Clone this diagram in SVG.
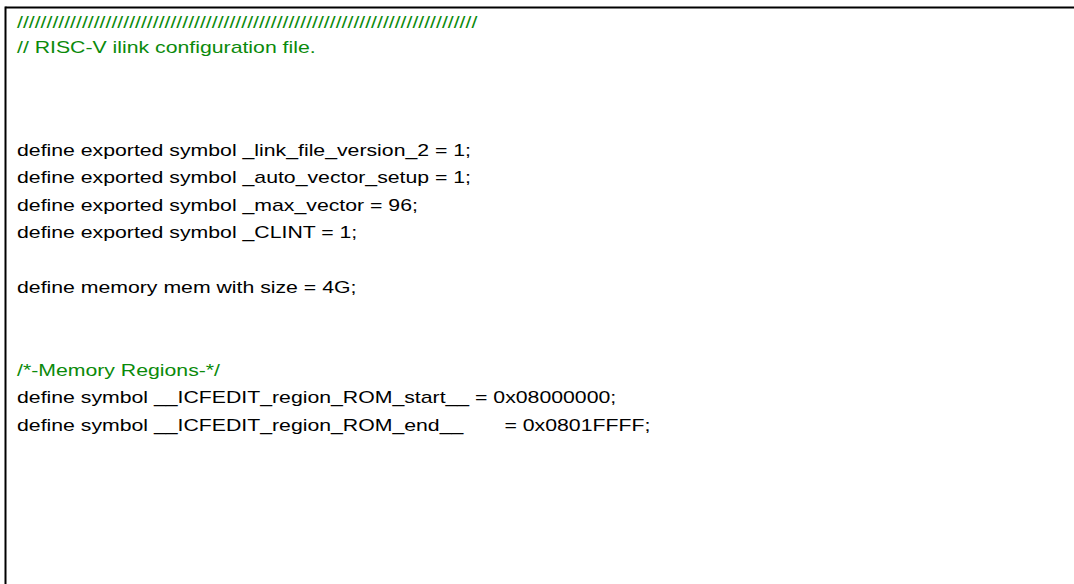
<svg xmlns="http://www.w3.org/2000/svg" width="1074" height="584" viewBox="0 0 1074 584">
<style>
.t{font-family:"Liberation Sans",Arial,sans-serif;font-size:17px;fill:#000}
.c{fill:#0b8a0b}
</style>
<rect x="0" y="0" width="1074" height="584" fill="#fff"/>
<g id="frame" fill="none" stroke="#000" stroke-width="2">
<line x1="5.5" y1="7.5" x2="1074" y2="7.5"/>
<line x1="5.5" y1="6.5" x2="5.5" y2="584"/>
</g>
<g id="code" transform="translate(17,0) scale(1.25,1)">
<text class="t c" x="0" y="28">//////////////////////////////////////////////////////////////////////////////</text>
<text class="t c" x="0" y="53">// RISC-V ilink configuration file.</text>
<text class="t" x="0" y="156">define exported symbol _link_file_version_2 = 1;</text>
<text class="t" x="0" y="183.5">define exported symbol _auto_vector_setup = 1;</text>
<text class="t" x="0" y="211">define exported symbol _max_vector = 96;</text>
<text class="t" x="0" y="238.5">define exported symbol _CLINT = 1;</text>
<text class="t" x="0" y="293.5">define memory mem with size = 4G;</text>
<text class="t c" x="0" y="376">/*-Memory Regions-*/</text>
<text class="t" x="0" y="403.5">define symbol __ICFEDIT_region_ROM_start__ = 0x08000000;</text>
<text class="t" x="0" y="431">define symbol __ICFEDIT_region_ROM_end__ <tspan x="390">= 0x0801FFFF;</tspan></text>
</g>
</svg>
